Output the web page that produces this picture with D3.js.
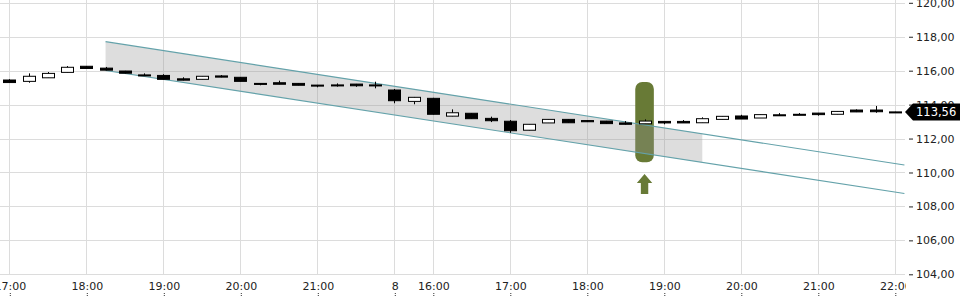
<!DOCTYPE html>
<html>
<head>
<meta charset="utf-8">
<script src="https://cdn.jsdelivr.net/npm/d3@7"></script>
<style>
  html, body { margin: 0; padding: 0; background: #fff; }
  svg { display: block; font-family: "DejaVu Sans", sans-serif; }
</style>
</head>
<body>
<svg id="chart" width="960" height="300"></svg>
<script>
// 15-minute slots: day 7 17:00-21:45, day 8 15:30-22:00
const slots = [
  "7 17:00","7 17:15","7 17:30","7 17:45","7 18:00","7 18:15","7 18:30","7 18:45",
  "7 19:00","7 19:15","7 19:30","7 19:45","7 20:00","7 20:15","7 20:30","7 20:45",
  "7 21:00","7 21:15","7 21:30","7 21:45",
  "8 15:30","8 15:45","8 16:00","8 16:15","8 16:30","8 16:45","8 17:00","8 17:15",
  "8 17:30","8 17:45","8 18:00","8 18:15","8 18:30","8 18:45","8 19:00","8 19:15",
  "8 19:30","8 19:45","8 20:00","8 20:15","8 20:30","8 20:45","8 21:00","8 21:15",
  "8 21:30","8 21:45","8 22:00"
];

const opens = [
  115.45,115.37,115.58,115.90,116.26,116.15,115.98,115.75,115.72,115.52,
  115.49,115.69,115.61,115.25,115.29,115.25,115.15,115.16,115.21,115.16,
  114.86,114.19,114.37,113.32,113.49,113.19,113.02,112.49,112.92,113.13,
  113.06,113.03,112.92,112.87,113.01,113.01,112.93,113.13,113.33,113.21,
  113.40,113.43,113.50,113.43,113.68,113.68,113.57
];
const highs = [
  115.50,115.84,115.92,116.27,116.27,116.22,115.99,115.84,115.79,115.61,
  115.68,115.74,115.62,115.26,115.41,115.26,115.16,115.25,115.22,115.35,
  114.92,114.45,114.40,113.72,113.50,113.29,113.09,112.84,113.13,113.14,
  113.07,113.04,113.03,113.13,113.02,113.09,113.25,113.32,113.40,113.41,
  113.50,113.50,113.51,113.62,113.72,113.92,113.58
];
const lows = [
  115.30,115.29,115.58,115.90,116.12,116.02,115.84,115.72,115.48,115.43,
  115.49,115.61,115.37,115.14,115.20,115.14,115.02,115.06,115.05,114.96,
  114.08,114.02,113.42,113.31,113.17,112.97,112.34,112.48,112.92,112.93,
  112.98,112.87,112.82,112.86,112.84,112.92,112.93,113.13,113.15,113.21,
  113.37,113.39,113.35,113.43,113.56,113.52,113.56
];
const closes = [
  115.30,115.67,115.84,116.20,116.13,116.03,115.85,115.73,115.49,115.44,
  115.67,115.62,115.37,115.19,115.20,115.14,115.13,115.14,115.11,115.14,
  114.23,114.43,113.43,113.52,113.17,113.05,112.46,112.84,113.13,112.93,
  112.99,112.88,112.84,113.03,112.92,112.92,113.17,113.31,113.15,113.41,
  113.37,113.39,113.41,113.60,113.57,113.58,113.56
];

// x-axis ticks (slot) and their labels
const tickSlots = ["7 17:00","7 18:00","7 19:00","7 20:00","7 21:00","8 15:30","8 16:00",
  "8 17:00","8 18:00","8 19:00","8 20:00","8 21:00","8 22:00"];
const tickLabels = ["17:00","18:00","19:00","20:00","21:00","8","16:00",
  "17:00","18:00","19:00","20:00","21:00","22:00"];
const yTicks = [104, 106, 108, 110, 112, 114, 116, 118, 120];

// trend channel (slot index, price)
const channelIdx = [5, 46.5];
const channelUpper = [117.71, 110.44];
const channelLower = [116.01, 108.76];
const shadeEndIdx = 36;

// signal marker
const markerIdx = 33;
const markerRange = [110.60, 115.33];
const arrowRange = [108.73, 109.91];

const lastPrice = 113.56;

const W = 960, H = 300, plotRight = 905;
const svg = d3.select("#chart");
const x = d3.scaleLinear().domain([0, slots.length - 1]).range([9.3, 894.8]);
const y = d3.scaleLinear().domain([104, 120]).range([274.3, 2.8]);
const de = d3.formatLocale({ decimal: ",", thousands: ".", grouping: [3], currency: ["", "€"] });
const fmt = de.format(".2f");

svg.append("defs").append("clipPath").attr("id", "plot")
  .append("rect").attr("x", 0).attr("y", 0).attr("width", plotRight).attr("height", H);

const candles = slots.map((s, i) => ({ slot: s, i, o: opens[i], h: highs[i], l: lows[i], c: closes[i] }));

// grid
const grid = svg.append("g").attr("stroke", "#dcdcdc").attr("stroke-width", 1);
grid.selectAll("line.h").data(yTicks).join("line")
  .attr("x1", 0).attr("x2", plotRight)
  .attr("y1", d => Math.round(y(d)) + 0.5).attr("y2", d => Math.round(y(d)) + 0.5);
grid.selectAll("line.v").data(tickSlots).join("line")
  .attr("x1", d => Math.round(x(slots.indexOf(d))) + 0.5)
  .attr("x2", d => Math.round(x(slots.indexOf(d))) + 0.5)
  .attr("y1", 0).attr("y2", Math.round(y(104)));

const plot = svg.append("g").attr("clip-path", "url(#plot)");

// signal pill
const pillTop = y(markerRange[1]), pillBot = y(markerRange[0]);
plot.append("rect")
  .attr("x", x(markerIdx) - 9.3).attr("width", 18.6)
  .attr("y", pillTop).attr("height", pillBot - pillTop)
  .attr("rx", 7).attr("fill", "#687a36");

// channel shade + lines
const upAt = t => d3.scaleLinear().domain(channelIdx).range(channelUpper)(t);
const loAt = t => d3.scaleLinear().domain(channelIdx).range(channelLower)(t);
const shade = [
  [channelIdx[0], upAt(channelIdx[0])], [shadeEndIdx, upAt(shadeEndIdx)],
  [shadeEndIdx, loAt(shadeEndIdx)], [channelIdx[0], loAt(channelIdx[0])]
];
plot.append("path")
  .attr("d", d3.line().x(d => x(d[0])).y(d => y(d[1]))(shade) + "Z")
  .attr("fill", "rgba(150,150,150,0.32)");
const chLine = d3.line().x(d => x(d[0])).y(d => y(d[1]));
[channelUpper, channelLower].forEach(vals => {
  plot.append("path")
    .attr("d", chLine(channelIdx.map((t, k) => [t, vals[k]])))
    .attr("fill", "none").attr("stroke", "#64a2aa").attr("stroke-width", 1.1);
});

// candles
const cg = plot.append("g");
cg.selectAll("line.wick").data(candles).join("line")
  .attr("x1", d => Math.round(x(d.i)) + 0.5).attr("x2", d => Math.round(x(d.i)) + 0.5)
  .attr("y1", d => y(d.h)).attr("y2", d => y(d.l))
  .attr("stroke", "#000").attr("stroke-width", 1);
cg.selectAll("rect.body").data(candles).join("rect")
  .attr("x", d => Math.round(x(d.i)) - 5.5)
  .attr("width", 12)
  .attr("y", d => y(Math.max(d.o, d.c)))
  .attr("height", d => Math.max(1, Math.abs(y(d.o) - y(d.c))))
  .attr("fill", d => d.c >= d.o ? "#fff" : "#000")
  .attr("stroke", "#000").attr("stroke-width", 1);

// arrow
const ax = x(markerIdx), aTop = y(arrowRange[1]), aBot = y(arrowRange[0]);
const headH = 9;
plot.append("path")
  .attr("d", `M${ax},${aTop} L${ax + 7.7},${aTop + headH} L${ax + 3.7},${aTop + headH} L${ax + 3.7},${aBot}
    L${ax - 3.7},${aBot} L${ax - 3.7},${aTop + headH} L${ax - 7.7},${aTop + headH} Z`)
  .attr("fill", "#687a36");

// y axis
const yAxis = svg.append("g").attr("transform", `translate(909,0)`)
  .call(d3.axisRight(y).tickValues(yTicks).tickFormat(fmt).tickSize(4).tickPadding(3));
yAxis.select(".domain").remove();
yAxis.selectAll("line").attr("stroke", "#222");
yAxis.selectAll("text").attr("font-size", 11).attr("fill", "#222").attr("font-family", "DejaVu Sans");

// x axis
svg.append("defs").append("clipPath").attr("id", "xclip")
  .append("rect").attr("x", 0).attr("y", 270).attr("width", 906).attr("height", 30);
const xAxis = svg.append("g").attr("clip-path", "url(#xclip)")
  .append("g").attr("transform", "translate(0.5,293)")
  .call(d3.axisBottom(x)
    .tickValues(tickSlots.map(s => slots.indexOf(s)))
    .tickFormat((d, k) => tickLabels[k])
    .tickSize(4));
xAxis.select(".domain").remove();
xAxis.selectAll("line").attr("stroke", "#333").attr("stroke-dasharray", "1,1");
xAxis.selectAll("text").attr("y", -3).attr("dy", 0)
  .attr("font-size", 11).attr("fill", "#222").attr("font-family", "DejaVu Sans");

// last price label
const ly = y(lastPrice);
svg.append("path")
  .attr("d", `M905,${ly} L913,${ly - 8.5} L${W},${ly - 8.5} L${W},${ly + 8.5} L913,${ly + 8.5} Z`)
  .attr("fill", "#000");
svg.append("text").attr("x", 916).attr("y", ly).attr("dy", "0.35em")
  .attr("font-size", 11.5).attr("fill", "#fff").text(fmt(lastPrice));
</script>
</body>
</html>
